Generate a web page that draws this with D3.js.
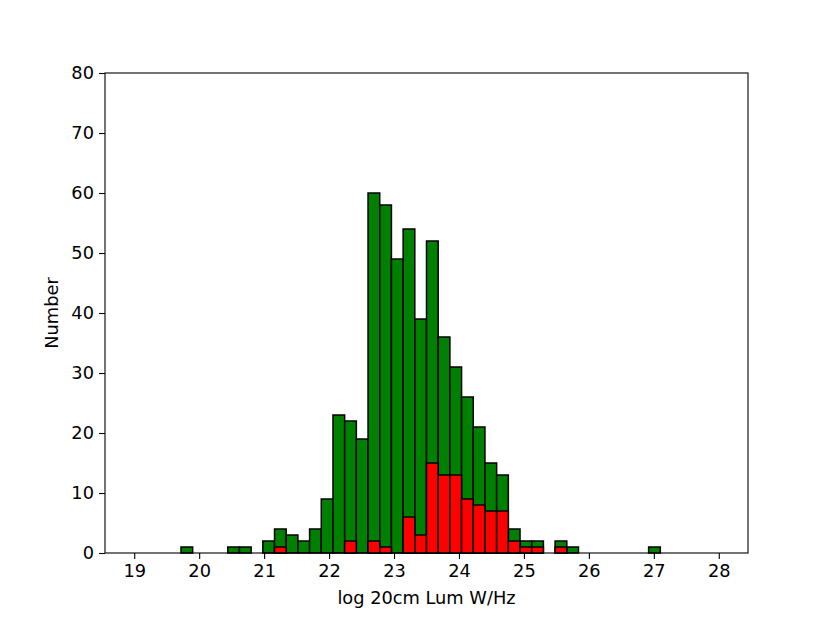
<!DOCTYPE html>
<html><head><meta charset="utf-8">
<script src="https://cdn.jsdelivr.net/npm/d3@7/dist/d3.min.js"></script>
<style>body{margin:0;background:#fff}svg text{font-family:"DejaVu Sans",sans-serif}</style>
</head><body><svg id="c" width="830" height="622"></svg>
<script>
const binEdges = [19.00,19.18,19.36,19.54,19.72,19.90,20.08,20.26,20.44,20.62,20.80,20.98,21.16,21.34,21.52,21.70,21.88,22.06,22.24,22.42,22.60,22.78,22.96,23.14,23.32,23.50,23.68,23.86,24.04,24.22,24.40,24.58,24.76,24.94,25.12,25.30,25.48,25.66,25.84,26.02,26.20,26.38,26.56,26.74,26.92,27.10,27.28,27.46,27.64,27.82,28.00];
const allCounts = [0,0,0,0,1,0,0,0,1,1,0,2,4,3,2,4,9,23,22,19,60,58,49,54,39,52,36,31,26,21,15,13,4,2,2,0,2,1,0,0,0,0,0,0,1,0,0,0,0,0];
const subCounts = [0,0,0,0,0,0,0,0,0,0,0,0,1,0,0,0,0,0,2,0,2,1,0,6,3,15,13,13,9,8,7,7,2,1,1,0,1,0,0,0,0,0,0,0,0,0,0,0,0,0];
const xTicks = [19,20,21,22,23,24,25,26,27,28];
const yTicks = [0,10,20,30,40,50,60,70,80];

const L=105,R=748,T=73,B=553;
const FS="17.8px";
const svg=d3.select("#c");
const x=d3.scaleLinear().domain([18.55,28.45]).range([L,R]);
const y=d3.scaleLinear().domain([0,80]).range([B,T]);

function bars(counts,color){
  svg.append("g").selectAll("rect").data(counts).join("rect")
    .attr("x",(d,i)=>x(binEdges[i]))
    .attr("width",(d,i)=>x(binEdges[i+1])-x(binEdges[i]))
    .attr("y",d=>y(d)).attr("height",d=>y(0)-y(d))
    .attr("fill",color).attr("stroke","#000").attr("stroke-width",1.5);
}
bars(allCounts,"#008000");
bars(subCounts,"#ff0000");

const xa=svg.append("g").attr("transform",`translate(0,${B})`)
  .call(d3.axisBottom(x).tickValues(xTicks).tickSize(6).tickPadding(5).tickFormat(d3.format("d")));
const ya=svg.append("g").attr("transform",`translate(${L},0)`)
  .call(d3.axisLeft(y).tickValues(yTicks).tickSize(6).tickPadding(5).tickFormat(d3.format("d")));
[xa,ya].forEach(a=>{a.select(".domain").remove();a.selectAll("line").attr("stroke","#000").attr("stroke-width",1.1);
  a.selectAll("text").attr("font-size",FS).attr("fill","#000").attr("font-family","DejaVu Sans");});
svg.append("rect").attr("x",L).attr("y",T).attr("width",R-L).attr("height",B-T)
  .attr("fill","none").attr("stroke","#000").attr("stroke-width",1.1);
svg.append("text").attr("x",(L+R)/2).attr("y",604).attr("text-anchor","middle")
  .attr("font-size",FS).text("log 20cm Lum W/Hz");
svg.append("text").attr("transform",`translate(58,${(T+B)/2}) rotate(-90)`).attr("text-anchor","middle")
  .attr("font-size",FS).text("Number");
</script></body></html>
